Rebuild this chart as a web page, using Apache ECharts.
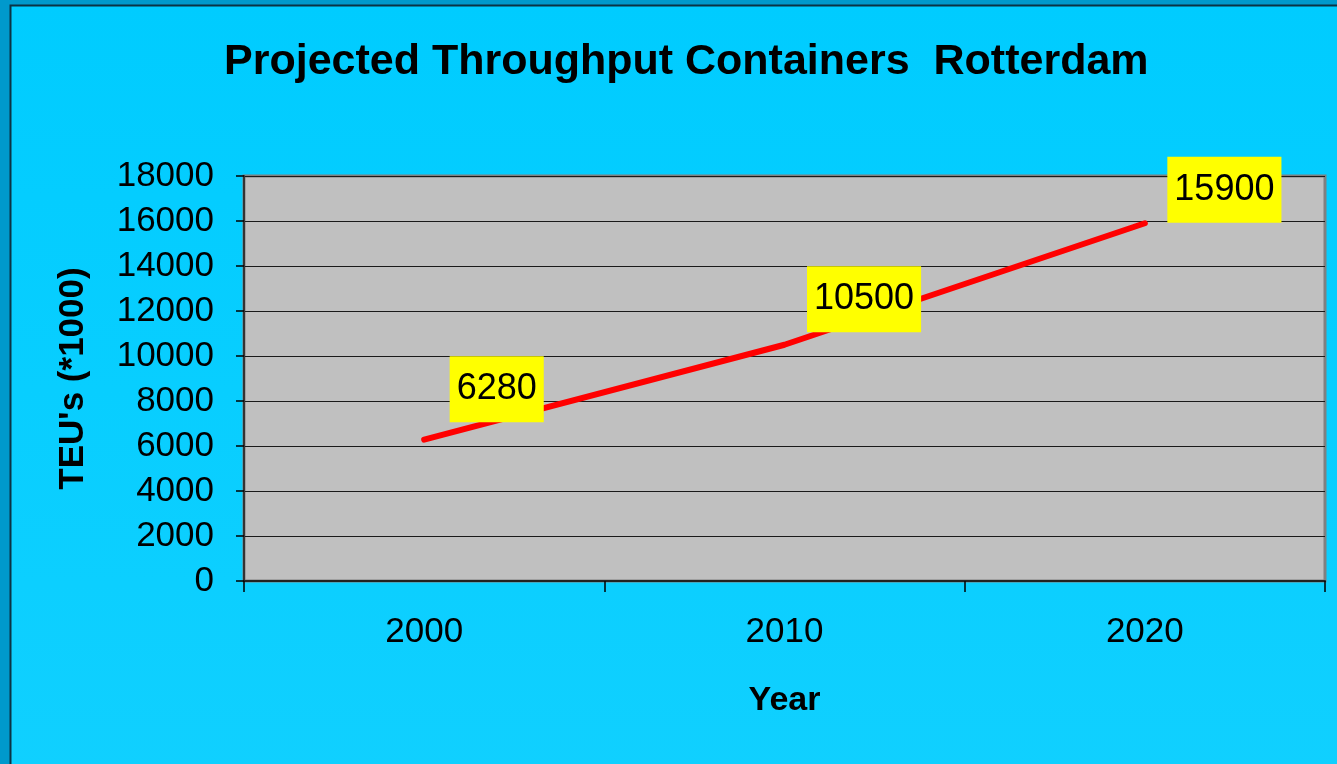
<!DOCTYPE html>
<html>
<head>
<meta charset="utf-8">
<script src="https://cdn.jsdelivr.net/npm/echarts@6/dist/echarts.min.js"></script>
<style>
html,body{margin:0;padding:0;background:#0099CC;}
#chart{width:1337px;height:764px;}
</style>
</head>
<body>
<div id="chart"></div>
<script>
const titleText = 'Projected Throughput Containers  Rotterdam';
const years = ['2000', '2010', '2020'];
const teu = [6280, 10500, 15900];
const yTicks = { min: 0, max: 18000, interval: 2000 };
const xAxisName = 'Year';
const yAxisName = "TEU's (*1000)";

const labelPos = [[26, -83], [23, -78], [23, -66]];

const chart = echarts.init(document.getElementById('chart'), null, { renderer: 'canvas' });
const FONT = '"Liberation Sans", Arial, sans-serif';

chart.setOption({
  animation: false,
  backgroundColor: '#0099CC',
  graphic: [
    {
      type: 'rect', z: -10, silent: true,
      shape: { x: 10.5, y: 5.5, width: 1340, height: 770 },
      style: {
        fill: { type: 'linear', x: 0, y: 0, x2: 0, y2: 1,
          colorStops: [{ offset: 0, color: '#00CCFF' }, { offset: 1, color: '#10D0FF' }] },
        stroke: '#0B3344', lineWidth: 2
      }
    }
  ],
  title: {
    text: titleText,
    left: 219, top: 36,
    textStyle: { fontFamily: FONT, fontSize: 43, fontWeight: 'bold', color: '#000' }
  },
  grid: {
    left: 244, top: 176, right: 12, bottom: 183,
    show: true, backgroundColor: '#C0C0C0', borderColor: '#808080', borderWidth: 3
  },
  xAxis: {
    type: 'category',
    data: years,
    boundaryGap: true,
    name: xAxisName,
    nameLocation: 'middle',
    nameGap: 103,
    nameTextStyle: { fontFamily: FONT, fontSize: 34, fontWeight: 'bold', color: '#000' },
    axisLine: { show: true, lineStyle: { color: '#222', width: 2 } },
    axisTick: { show: true, length: 11, lineStyle: { color: '#000', width: 1.5 } },
    axisLabel: { fontFamily: FONT, fontSize: 35, color: '#000', margin: 34 },
    splitLine: { show: false }
  },
  yAxis: {
    type: 'value',
    min: yTicks.min, max: yTicks.max, interval: yTicks.interval,
    name: yAxisName,
    nameLocation: 'middle',
    nameGap: 153,
    nameRotate: 90,
    nameTextStyle: { fontFamily: FONT, fontSize: 35, fontWeight: 'bold', color: '#000' },
    axisLine: { show: true, lineStyle: { color: '#333', width: 2 } },
    axisTick: { show: true, length: 8, lineStyle: { color: '#000', width: 1.5 } },
    axisLabel: { fontFamily: FONT, fontSize: 35, color: '#000', margin: 30, formatter: v => String(v) },
    splitLine: { show: true, lineStyle: { color: '#1a1a1a', width: 1.2 } }
  },
  series: [{
    type: 'line',
    data: teu.map((v, i) => ({
      value: v,
      label: { position: labelPos[i] }
    })),
    symbol: 'circle',
    symbolSize: 1,
    showSymbol: true,
    itemStyle: { color: '#FF0000' },
    lineStyle: { color: '#FF0000', width: 6, cap: 'round', join: 'round' },
    label: {
      show: true,
      fontFamily: FONT, fontSize: 36, color: '#000',
      backgroundColor: '#FFFF00',
      padding: [15, 7, 15, 7],
      lineHeight: 36
    },
    z: 5
  }]
});
</script>
</body>
</html>
